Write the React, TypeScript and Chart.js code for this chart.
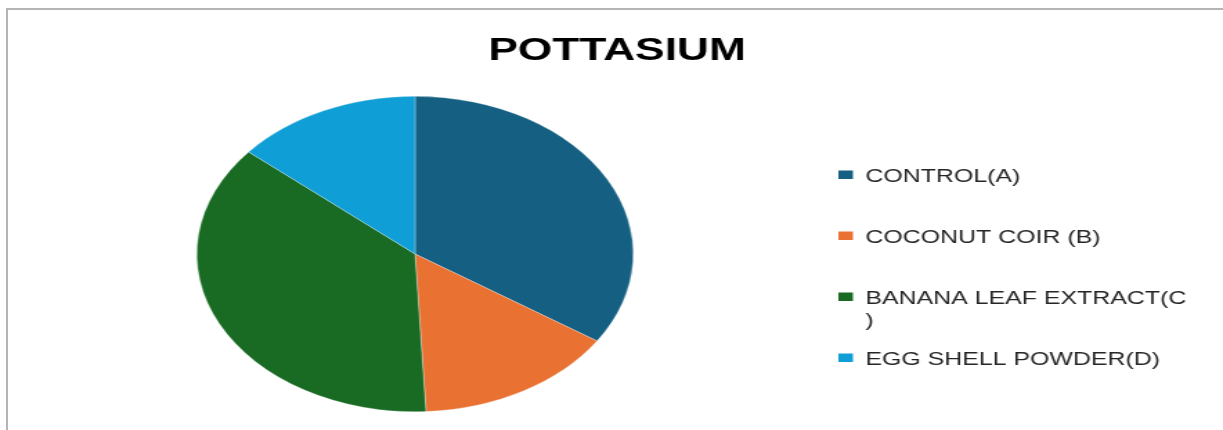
import React, { useEffect, useRef } from "react";
import { Chart, registerables } from "chart.js";

Chart.register(...registerables);

// ---- data ----
const TITLE = "POTTASIUM";
const CATEGORIES = [
  "CONTROL(A)",
  "COCONUT COIR (B)",
  "BANANA LEAF EXTRACT(C)",
  "EGG SHELL POWDER(D)",
];
const VALUES = [34.3, 14.9, 37.0, 13.8];
const COLORS = ["#156082", "#E97132", "#196B24", "#0F9ED5"];

// ---- layout ----
const VIEW_W = 1223;
const VIEW_H = 430;
const LOGICAL_W = 884; // drawn narrower, then stretched horizontally like the reference

function wrapText(ctx: CanvasRenderingContext2D, text: string, maxW: number): string[] {
  const lines: string[] = [];
  let cur = "";
  for (const ch of text) {
    const test = cur + ch;
    if (cur && ctx.measureText(test).width > maxW) {
      lines.push(cur);
      cur = ch;
    } else {
      cur = test;
    }
  }
  if (cur) lines.push(cur);
  return lines;
}

const officeTextPlugin = {
  id: "officeText",
  afterDraw(chart: any) {
    const ctx: CanvasRenderingContext2D = chart.ctx;
    ctx.save();
    // title
    ctx.fillStyle = "#000000";
    ctx.font = 'bold 32px "Liberation Sans", Arial, sans-serif';
    ctx.textAlign = "center";
    ctx.textBaseline = "alphabetic";
    ctx.fillText(TITLE, 446, 59.5);

    // legend
    const labels: string[] = chart.data.labels;
    const colors: string[] = chart.data.datasets[0].backgroundColor;
    ctx.font = '18px "Liberation Sans", Arial, sans-serif';
    ctx.textAlign = "left";
    labels.forEach((label, i) => {
      const base = 182 + i * 61;
      ctx.fillStyle = colors[i];
      ctx.fillRect(606, base - 11.5, 10.5, 8.5);
      ctx.fillStyle = "#262626";
      const lines = wrapText(ctx, label, 235);
      lines.forEach((ln, j) => ctx.fillText(ln, 625.5, base + j * 21.5));
    });
    ctx.restore();
  },
};

export default function App() {
  const canvasRef = useRef<HTMLCanvasElement | null>(null);

  useEffect(() => {
    if (!canvasRef.current) return;
    const chart = new Chart(canvasRef.current, {
      type: "pie",
      data: {
        labels: CATEGORIES,
        datasets: [
          {
            data: VALUES,
            backgroundColor: COLORS,
            borderColor: "rgba(255,255,255,0.6)",
            borderWidth: 0.5,
          },
        ],
      },
      options: {
        responsive: false,
        devicePixelRatio: 1,
        animation: false,
        layout: { padding: { left: 142, right: LOGICAL_W - 458, top: 96, bottom: 18 } },
        plugins: {
          legend: { display: false },
          title: { display: false },
          tooltip: { enabled: false },
        },
      },
      plugins: [officeTextPlugin],
    } as any);
    return () => chart.destroy();
  }, []);

  return (
    <div
      style={{
        position: "fixed",
        left: 0,
        top: 0,
        width: VIEW_W,
        height: VIEW_H,
        background: "#ffffff",
        overflow: "hidden",
      }}
    >
      <div
        style={{
          position: "absolute",
          left: 6,
          top: 8,
          width: VIEW_W + 20,
          height: VIEW_H + 20,
          borderTop: "2px solid #b4b4b4",
          borderLeft: "2px solid #b4b4b4",
          boxSizing: "border-box",
        }}
      />
      <canvas
        ref={canvasRef}
        width={LOGICAL_W}
        height={VIEW_H}
        style={{ position: "absolute", left: 0, top: 0, width: VIEW_W, height: VIEW_H }}
      />
    </div>
  );
}
